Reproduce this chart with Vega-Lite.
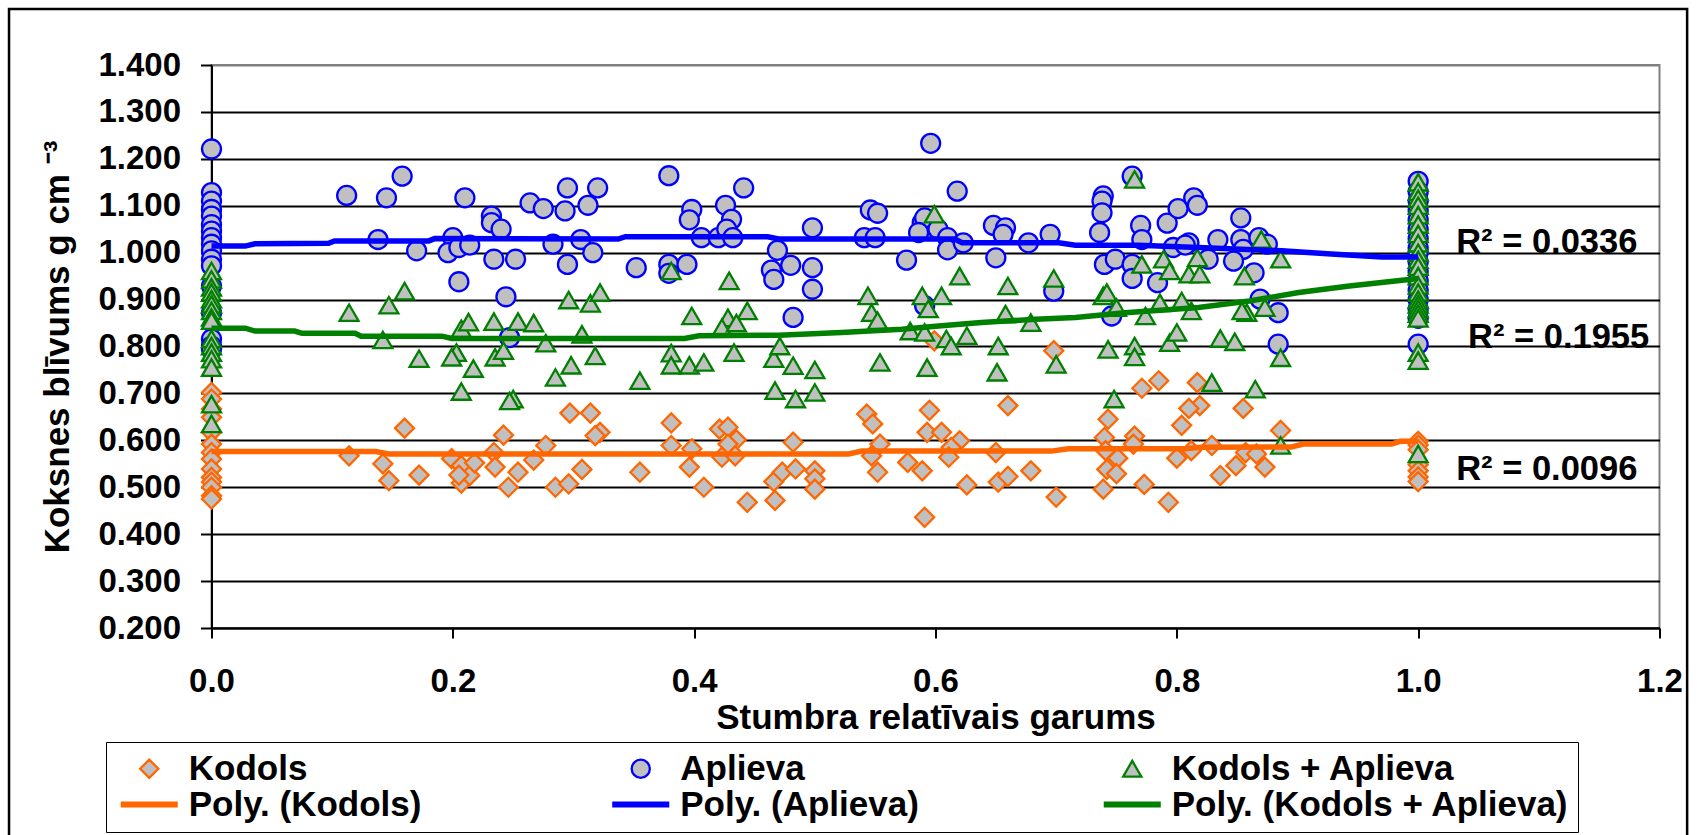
{
"$schema": "https://vega.github.io/schema/vega-lite/v6.json",
"width": 1448, "height": 563,
"autosize": {"type": "none"},
"padding": {"left": 211.5, "top": 65, "right": 40.5, "bottom": 207},
"background": "white",
"config": {
  "font": "Liberation Sans",
  "view": {"stroke": "#808080", "strokeWidth": 2},
  "axis": {"labelFont": "Liberation Sans", "labelFontSize": 33, "labelFontWeight": "bold", "labelColor": "black",
           "titleFont": "Liberation Sans", "titleFontSize": 35, "titleFontWeight": "bold", "titleColor": "black",
           "domainColor": "black", "domainWidth": 2, "tickColor": "black", "tickWidth": 2,
           "labelFlush": false, "labelOverlap": false, "labelBound": false}
},
"datasets": {
"pts": [
{"s":"Kodols","x":0,"y":0.702},{"s":"Kodols","x":0,"y":0.688},{"s":"Kodols","x":0,"y":0.667},{"s":"Kodols","x":0,"y":0.649},{"s":"Kodols","x":0,"y":0.617},{"s":"Kodols","x":0,"y":0.592},{"s":"Kodols","x":0,"y":0.574},{"s":"Kodols","x":0,"y":0.56},{"s":"Kodols","x":0,"y":0.539},{"s":"Kodols","x":0,"y":0.521},{"s":"Kodols","x":0,"y":0.511},{"s":"Kodols","x":0,"y":0.5},{"s":"Kodols","x":0,"y":0.482},{"s":"Kodols","x":0,"y":0.475},
{"s":"Kodols","x":0.114,"y":0.567},{"s":"Kodols","x":0.16,"y":0.626},{"s":"Kodols","x":0.142,"y":0.55},{"s":"Kodols","x":0.147,"y":0.514},{"s":"Kodols","x":0.172,"y":0.526},{"s":"Kodols","x":0.199,"y":0.561},{"s":"Kodols","x":0.207,"y":0.546},{"s":"Kodols","x":0.207,"y":0.509},{"s":"Kodols","x":0.214,"y":0.525},{"s":"Kodols","x":0.205,"y":0.526},{"s":"Kodols","x":0.218,"y":0.552},
{"s":"Kodols","x":0.242,"y":0.611},{"s":"Kodols","x":0.234,"y":0.574},{"s":"Kodols","x":0.235,"y":0.543},{"s":"Kodols","x":0.246,"y":0.5},{"s":"Kodols","x":0.254,"y":0.532},{"s":"Kodols","x":0.267,"y":0.558},{"s":"Kodols","x":0.277,"y":0.589},{"s":"Kodols","x":0.297,"y":0.658},{"s":"Kodols","x":0.314,"y":0.658},{"s":"Kodols","x":0.322,"y":0.617},{"s":"Kodols","x":0.318,"y":0.61},{"s":"Kodols","x":0.285,"y":0.5},{"s":"Kodols","x":0.296,"y":0.507},{"s":"Kodols","x":0.307,"y":0.538},{"s":"Kodols","x":0.355,"y":0.532},{"s":"Kodols","x":0.381,"y":0.637},{"s":"Kodols","x":0.381,"y":0.589},{"s":"Kodols","x":0.398,"y":0.582},{"s":"Kodols","x":0.396,"y":0.543},{"s":"Kodols","x":0.408,"y":0.5},{"s":"Kodols","x":0.421,"y":0.624},{"s":"Kodols","x":0.428,"y":0.628},{"s":"Kodols","x":0.435,"y":0.601},{"s":"Kodols","x":0.428,"y":0.592},{"s":"Kodols","x":0.423,"y":0.564},{"s":"Kodols","x":0.434,"y":0.567},{"s":"Kodols","x":0.444,"y":0.468},{"s":"Kodols","x":0.466,"y":0.512},{"s":"Kodols","x":0.467,"y":0.472},{"s":"Kodols","x":0.473,"y":0.532},
{"s":"Kodols","x":0.599,"y":0.812},{"s":"Kodols","x":0.698,"y":0.791},{"s":"Kodols","x":0.66,"y":0.674},{"s":"Kodols","x":0.595,"y":0.664},{"s":"Kodols","x":0.543,"y":0.656},{"s":"Kodols","x":0.548,"y":0.635},{"s":"Kodols","x":0.593,"y":0.617},{"s":"Kodols","x":0.605,"y":0.617},{"s":"Kodols","x":0.62,"y":0.599},{"s":"Kodols","x":0.613,"y":0.585},{"s":"Kodols","x":0.554,"y":0.592},{"s":"Kodols","x":0.547,"y":0.567},{"s":"Kodols","x":0.611,"y":0.564},{"s":"Kodols","x":0.65,"y":0.574},{"s":"Kodols","x":0.482,"y":0.596},{"s":"Kodols","x":0.484,"y":0.539},{"s":"Kodols","x":0.5,"y":0.535},{"s":"Kodols","x":0.5,"y":0.518},{"s":"Kodols","x":0.5,"y":0.496},{"s":"Kodols","x":0.552,"y":0.532},{"s":"Kodols","x":0.577,"y":0.553},{"s":"Kodols","x":0.589,"y":0.535},{"s":"Kodols","x":0.591,"y":0.436},{"s":"Kodols","x":0.626,"y":0.505},{"s":"Kodols","x":0.652,"y":0.511},{"s":"Kodols","x":0.66,"y":0.523},{"s":"Kodols","x":0.679,"y":0.535},{"s":"Kodols","x":0.7,"y":0.479},
{"s":"Kodols","x":0.785,"y":0.727},{"s":"Kodols","x":0.771,"y":0.711},{"s":"Kodols","x":0.817,"y":0.723},{"s":"Kodols","x":0.819,"y":0.674},{"s":"Kodols","x":0.81,"y":0.668},{"s":"Kodols","x":0.804,"y":0.632},{"s":"Kodols","x":0.855,"y":0.668},{"s":"Kodols","x":0.743,"y":0.645},{"s":"Kodols","x":0.74,"y":0.606},{"s":"Kodols","x":0.765,"y":0.609},{"s":"Kodols","x":0.764,"y":0.592},{"s":"Kodols","x":0.886,"y":0.621},{"s":"Kodols","x":0.829,"y":0.589},{"s":"Kodols","x":0.812,"y":0.578},{"s":"Kodols","x":0.741,"y":0.578},{"s":"Kodols","x":0.751,"y":0.562},{"s":"Kodols","x":0.8,"y":0.562},{"s":"Kodols","x":0.857,"y":0.574},{"s":"Kodols","x":0.866,"y":0.571},{"s":"Kodols","x":0.742,"y":0.538},{"s":"Kodols","x":0.75,"y":0.529},{"s":"Kodols","x":0.849,"y":0.546},{"s":"Kodols","x":0.873,"y":0.543},{"s":"Kodols","x":0.836,"y":0.525},{"s":"Kodols","x":0.739,"y":0.496},{"s":"Kodols","x":0.773,"y":0.506},{"s":"Kodols","x":0.793,"y":0.468},
{"s":"Kodols","x":1,"y":0.598},{"s":"Kodols","x":1,"y":0.59},{"s":"Kodols","x":1,"y":0.58},{"s":"Kodols","x":1,"y":0.548},{"s":"Kodols","x":1,"y":0.535},{"s":"Kodols","x":1,"y":0.522},{"s":"Kodols","x":1,"y":0.512},
{"s":"Aplieva","x":0,"y":1.221},{"s":"Aplieva","x":0,"y":1.128},{"s":"Aplieva","x":0,"y":1.11},{"s":"Aplieva","x":0,"y":1.092},{"s":"Aplieva","x":0,"y":1.078},{"s":"Aplieva","x":0,"y":1.06},{"s":"Aplieva","x":0,"y":1.046},{"s":"Aplieva","x":0,"y":1.032},{"s":"Aplieva","x":0,"y":1.018},{"s":"Aplieva","x":0,"y":1.004},{"s":"Aplieva","x":0,"y":0.986},{"s":"Aplieva","x":0,"y":0.972},{"s":"Aplieva","x":0,"y":0.929},{"s":"Aplieva","x":0,"y":0.872},{"s":"Aplieva","x":0,"y":0.816},{"s":"Aplieva","x":0,"y":0.801},{"s":"Aplieva","x":0,"y":0.794},
{"s":"Aplieva","x":0.112,"y":1.122},{"s":"Aplieva","x":0.158,"y":1.163},{"s":"Aplieva","x":0.145,"y":1.117},{"s":"Aplieva","x":0.21,"y":1.117},{"s":"Aplieva","x":0.138,"y":1.028},{"s":"Aplieva","x":0.17,"y":1.004},{"s":"Aplieva","x":0.2,"y":1.032},{"s":"Aplieva","x":0.196,"y":1.0},{"s":"Aplieva","x":0.205,"y":1.011},{"s":"Aplieva","x":0.214,"y":1.016},{"s":"Aplieva","x":0.205,"y":0.938},
{"s":"Aplieva","x":0.232,"y":1.078},{"s":"Aplieva","x":0.232,"y":1.064},{"s":"Aplieva","x":0.24,"y":1.05},{"s":"Aplieva","x":0.234,"y":0.986},{"s":"Aplieva","x":0.252,"y":0.986},{"s":"Aplieva","x":0.244,"y":0.906},{"s":"Aplieva","x":0.247,"y":0.819},{"s":"Aplieva","x":0.264,"y":1.106},{"s":"Aplieva","x":0.275,"y":1.094},{"s":"Aplieva","x":0.293,"y":1.089},{"s":"Aplieva","x":0.295,"y":1.138},{"s":"Aplieva","x":0.312,"y":1.101},{"s":"Aplieva","x":0.32,"y":1.138},{"s":"Aplieva","x":0.283,"y":1.018},{"s":"Aplieva","x":0.306,"y":1.028},{"s":"Aplieva","x":0.316,"y":1.0},{"s":"Aplieva","x":0.295,"y":0.975},{"s":"Aplieva","x":0.352,"y":0.968},{"s":"Aplieva","x":0.379,"y":1.164},{"s":"Aplieva","x":0.398,"y":1.092},{"s":"Aplieva","x":0.396,"y":1.07},{"s":"Aplieva","x":0.379,"y":0.975},{"s":"Aplieva","x":0.379,"y":0.956},{"s":"Aplieva","x":0.394,"y":0.975},{"s":"Aplieva","x":0.406,"y":1.032},{"s":"Aplieva","x":0.42,"y":1.032},{"s":"Aplieva","x":0.426,"y":1.101},{"s":"Aplieva","x":0.431,"y":1.071},{"s":"Aplieva","x":0.427,"y":1.05},{"s":"Aplieva","x":0.432,"y":1.032},{"s":"Aplieva","x":0.441,"y":1.138},{"s":"Aplieva","x":0.469,"y":1.005},{"s":"Aplieva","x":0.464,"y":0.963},{"s":"Aplieva","x":0.466,"y":0.943},
{"s":"Aplieva","x":0.596,"y":1.233},{"s":"Aplieva","x":0.618,"y":1.131},{"s":"Aplieva","x":0.546,"y":1.091},{"s":"Aplieva","x":0.552,"y":1.084},{"s":"Aplieva","x":0.498,"y":1.053},{"s":"Aplieva","x":0.541,"y":1.032},{"s":"Aplieva","x":0.55,"y":1.032},{"s":"Aplieva","x":0.589,"y":1.064},{"s":"Aplieva","x":0.591,"y":1.074},{"s":"Aplieva","x":0.586,"y":1.043},{"s":"Aplieva","x":0.602,"y":1.05},{"s":"Aplieva","x":0.61,"y":1.032},{"s":"Aplieva","x":0.61,"y":1.006},{"s":"Aplieva","x":0.623,"y":1.021},{"s":"Aplieva","x":0.576,"y":0.984},{"s":"Aplieva","x":0.648,"y":1.058},{"s":"Aplieva","x":0.658,"y":1.053},{"s":"Aplieva","x":0.656,"y":1.039},{"s":"Aplieva","x":0.677,"y":1.021},{"s":"Aplieva","x":0.695,"y":1.039},{"s":"Aplieva","x":0.65,"y":0.989},{"s":"Aplieva","x":0.48,"y":0.973},{"s":"Aplieva","x":0.498,"y":0.968},{"s":"Aplieva","x":0.498,"y":0.922},{"s":"Aplieva","x":0.482,"y":0.862},{"s":"Aplieva","x":0.698,"y":0.918},{"s":"Aplieva","x":0.591,"y":0.887},
{"s":"Aplieva","x":0.763,"y":1.163},{"s":"Aplieva","x":0.739,"y":1.121},{"s":"Aplieva","x":0.738,"y":1.11},{"s":"Aplieva","x":0.738,"y":1.085},{"s":"Aplieva","x":0.736,"y":1.043},{"s":"Aplieva","x":0.74,"y":0.975},{"s":"Aplieva","x":0.749,"y":0.986},{"s":"Aplieva","x":0.763,"y":0.975},{"s":"Aplieva","x":0.763,"y":0.945},{"s":"Aplieva","x":0.77,"y":1.058},{"s":"Aplieva","x":0.771,"y":1.028},{"s":"Aplieva","x":0.792,"y":1.063},{"s":"Aplieva","x":0.801,"y":1.094},{"s":"Aplieva","x":0.814,"y":1.117},{"s":"Aplieva","x":0.817,"y":1.101},{"s":"Aplieva","x":0.784,"y":0.936},{"s":"Aplieva","x":0.797,"y":1.011},{"s":"Aplieva","x":0.81,"y":1.021},{"s":"Aplieva","x":0.807,"y":1.016},{"s":"Aplieva","x":0.826,"y":0.986},{"s":"Aplieva","x":0.834,"y":1.028},{"s":"Aplieva","x":0.853,"y":1.074},{"s":"Aplieva","x":0.853,"y":1.028},{"s":"Aplieva","x":0.855,"y":1.007},{"s":"Aplieva","x":0.847,"y":0.982},{"s":"Aplieva","x":0.864,"y":0.957},{"s":"Aplieva","x":0.868,"y":1.032},{"s":"Aplieva","x":0.875,"y":1.018},{"s":"Aplieva","x":0.869,"y":0.901},{"s":"Aplieva","x":0.746,"y":0.865},{"s":"Aplieva","x":0.884,"y":0.872},{"s":"Aplieva","x":0.884,"y":0.805},
{"s":"Aplieva","x":1,"y":1.152},{"s":"Aplieva","x":1,"y":1.13},{"s":"Aplieva","x":1,"y":1.11},{"s":"Aplieva","x":1,"y":1.09},{"s":"Aplieva","x":1,"y":1.07},{"s":"Aplieva","x":1,"y":1.05},{"s":"Aplieva","x":1,"y":1.03},{"s":"Aplieva","x":1,"y":1.01},{"s":"Aplieva","x":1,"y":1.0},{"s":"Aplieva","x":1,"y":0.98},{"s":"Aplieva","x":1,"y":0.96},{"s":"Aplieva","x":1,"y":0.94},{"s":"Aplieva","x":1,"y":0.92},{"s":"Aplieva","x":1,"y":0.9},{"s":"Aplieva","x":1,"y":0.88},{"s":"Aplieva","x":1,"y":0.86},{"s":"Aplieva","x":1,"y":0.805},
{"s":"Kodols + Aplieva","x":0,"y":0.961},{"s":"Kodols + Aplieva","x":0,"y":0.943},{"s":"Kodols + Aplieva","x":0,"y":0.926},{"s":"Kodols + Aplieva","x":0,"y":0.915},{"s":"Kodols + Aplieva","x":0,"y":0.901},{"s":"Kodols + Aplieva","x":0,"y":0.89},{"s":"Kodols + Aplieva","x":0,"y":0.876},{"s":"Kodols + Aplieva","x":0,"y":0.862},{"s":"Kodols + Aplieva","x":0,"y":0.855},{"s":"Kodols + Aplieva","x":0,"y":0.816},{"s":"Kodols + Aplieva","x":0,"y":0.801},{"s":"Kodols + Aplieva","x":0,"y":0.787},{"s":"Kodols + Aplieva","x":0,"y":0.773},{"s":"Kodols + Aplieva","x":0,"y":0.755},{"s":"Kodols + Aplieva","x":0,"y":0.677},{"s":"Kodols + Aplieva","x":0,"y":0.635},
{"s":"Kodols + Aplieva","x":0.114,"y":0.872},{"s":"Kodols + Aplieva","x":0.147,"y":0.888},{"s":"Kodols + Aplieva","x":0.16,"y":0.918},{"s":"Kodols + Aplieva","x":0.142,"y":0.814},{"s":"Kodols + Aplieva","x":0.172,"y":0.774},{"s":"Kodols + Aplieva","x":0.207,"y":0.838},{"s":"Kodols + Aplieva","x":0.213,"y":0.852},{"s":"Kodols + Aplieva","x":0.203,"y":0.787},{"s":"Kodols + Aplieva","x":0.199,"y":0.777},{"s":"Kodols + Aplieva","x":0.217,"y":0.753},{"s":"Kodols + Aplieva","x":0.207,"y":0.704},
{"s":"Kodols + Aplieva","x":0.234,"y":0.853},{"s":"Kodols + Aplieva","x":0.235,"y":0.777},{"s":"Kodols + Aplieva","x":0.242,"y":0.791},{"s":"Kodols + Aplieva","x":0.254,"y":0.853},{"s":"Kodols + Aplieva","x":0.267,"y":0.85},{"s":"Kodols + Aplieva","x":0.277,"y":0.807},{"s":"Kodols + Aplieva","x":0.25,"y":0.688},{"s":"Kodols + Aplieva","x":0.247,"y":0.684},{"s":"Kodols + Aplieva","x":0.296,"y":0.899},{"s":"Kodols + Aplieva","x":0.314,"y":0.892},{"s":"Kodols + Aplieva","x":0.322,"y":0.915},{"s":"Kodols + Aplieva","x":0.307,"y":0.826},{"s":"Kodols + Aplieva","x":0.298,"y":0.76},{"s":"Kodols + Aplieva","x":0.318,"y":0.78},{"s":"Kodols + Aplieva","x":0.285,"y":0.734},{"s":"Kodols + Aplieva","x":0.355,"y":0.727},{"s":"Kodols + Aplieva","x":0.381,"y":0.961},{"s":"Kodols + Aplieva","x":0.398,"y":0.865},{"s":"Kodols + Aplieva","x":0.429,"y":0.94},{"s":"Kodols + Aplieva","x":0.428,"y":0.861},{"s":"Kodols + Aplieva","x":0.444,"y":0.876},{"s":"Kodols + Aplieva","x":0.423,"y":0.84},{"s":"Kodols + Aplieva","x":0.435,"y":0.85},{"s":"Kodols + Aplieva","x":0.381,"y":0.786},{"s":"Kodols + Aplieva","x":0.381,"y":0.76},{"s":"Kodols + Aplieva","x":0.396,"y":0.76},{"s":"Kodols + Aplieva","x":0.408,"y":0.766},{"s":"Kodols + Aplieva","x":0.433,"y":0.787},{"s":"Kodols + Aplieva","x":0.466,"y":0.774},{"s":"Kodols + Aplieva","x":0.467,"y":0.706},{"s":"Kodols + Aplieva","x":0.471,"y":0.801},
{"s":"Kodols + Aplieva","x":0.599,"y":1.082},{"s":"Kodols + Aplieva","x":0.62,"y":0.95},{"s":"Kodols + Aplieva","x":0.66,"y":0.929},{"s":"Kodols + Aplieva","x":0.698,"y":0.945},{"s":"Kodols + Aplieva","x":0.544,"y":0.908},{"s":"Kodols + Aplieva","x":0.589,"y":0.908},{"s":"Kodols + Aplieva","x":0.605,"y":0.908},{"s":"Kodols + Aplieva","x":0.547,"y":0.872},{"s":"Kodols + Aplieva","x":0.552,"y":0.855},{"s":"Kodols + Aplieva","x":0.594,"y":0.88},{"s":"Kodols + Aplieva","x":0.579,"y":0.833},{"s":"Kodols + Aplieva","x":0.591,"y":0.83},{"s":"Kodols + Aplieva","x":0.609,"y":0.816},{"s":"Kodols + Aplieva","x":0.613,"y":0.801},{"s":"Kodols + Aplieva","x":0.626,"y":0.823},{"s":"Kodols + Aplieva","x":0.658,"y":0.869},{"s":"Kodols + Aplieva","x":0.679,"y":0.851},{"s":"Kodols + Aplieva","x":0.652,"y":0.801},{"s":"Kodols + Aplieva","x":0.651,"y":0.745},{"s":"Kodols + Aplieva","x":0.7,"y":0.762},{"s":"Kodols + Aplieva","x":0.554,"y":0.766},{"s":"Kodols + Aplieva","x":0.593,"y":0.755},{"s":"Kodols + Aplieva","x":0.482,"y":0.759},{"s":"Kodols + Aplieva","x":0.5,"y":0.75},{"s":"Kodols + Aplieva","x":0.5,"y":0.702},{"s":"Kodols + Aplieva","x":0.484,"y":0.688},
{"s":"Kodols + Aplieva","x":0.765,"y":1.156},{"s":"Kodols + Aplieva","x":0.739,"y":0.908},{"s":"Kodols + Aplieva","x":0.742,"y":0.915},{"s":"Kodols + Aplieva","x":0.75,"y":0.883},{"s":"Kodols + Aplieva","x":0.771,"y":0.975},{"s":"Kodols + Aplieva","x":0.774,"y":0.865},{"s":"Kodols + Aplieva","x":0.786,"y":0.893},{"s":"Kodols + Aplieva","x":0.789,"y":0.986},{"s":"Kodols + Aplieva","x":0.794,"y":0.961},{"s":"Kodols + Aplieva","x":0.804,"y":0.897},{"s":"Kodols + Aplieva","x":0.81,"y":0.954},{"s":"Kodols + Aplieva","x":0.812,"y":0.876},{"s":"Kodols + Aplieva","x":0.817,"y":0.989},{"s":"Kodols + Aplieva","x":0.819,"y":0.954},{"s":"Kodols + Aplieva","x":0.856,"y":0.95},{"s":"Kodols + Aplieva","x":0.858,"y":0.872},{"s":"Kodols + Aplieva","x":0.854,"y":0.876},{"s":"Kodols + Aplieva","x":0.87,"y":1.028},{"s":"Kodols + Aplieva","x":0.873,"y":0.883},{"s":"Kodols + Aplieva","x":0.886,"y":0.986},{"s":"Kodols + Aplieva","x":0.743,"y":0.794},{"s":"Kodols + Aplieva","x":0.765,"y":0.801},{"s":"Kodols + Aplieva","x":0.765,"y":0.778},{"s":"Kodols + Aplieva","x":0.794,"y":0.808},{"s":"Kodols + Aplieva","x":0.8,"y":0.83},{"s":"Kodols + Aplieva","x":0.836,"y":0.817},{"s":"Kodols + Aplieva","x":0.848,"y":0.81},{"s":"Kodols + Aplieva","x":0.886,"y":0.776},{"s":"Kodols + Aplieva","x":0.748,"y":0.688},{"s":"Kodols + Aplieva","x":0.829,"y":0.723},{"s":"Kodols + Aplieva","x":0.865,"y":0.709},{"s":"Kodols + Aplieva","x":0.886,"y":0.589},
{"s":"Kodols + Aplieva","x":1,"y":1.15},{"s":"Kodols + Aplieva","x":1,"y":1.13},{"s":"Kodols + Aplieva","x":1,"y":1.115},{"s":"Kodols + Aplieva","x":1,"y":1.1},{"s":"Kodols + Aplieva","x":1,"y":1.08},{"s":"Kodols + Aplieva","x":1,"y":1.06},{"s":"Kodols + Aplieva","x":1,"y":1.04},{"s":"Kodols + Aplieva","x":1,"y":1.02},{"s":"Kodols + Aplieva","x":1,"y":1.0},{"s":"Kodols + Aplieva","x":1,"y":0.985},{"s":"Kodols + Aplieva","x":1,"y":0.97},{"s":"Kodols + Aplieva","x":1,"y":0.95},{"s":"Kodols + Aplieva","x":1,"y":0.93},{"s":"Kodols + Aplieva","x":1,"y":0.915},{"s":"Kodols + Aplieva","x":1,"y":0.9},{"s":"Kodols + Aplieva","x":1,"y":0.89},{"s":"Kodols + Aplieva","x":1,"y":0.88},{"s":"Kodols + Aplieva","x":1,"y":0.87},{"s":"Kodols + Aplieva","x":1,"y":0.86},{"s":"Kodols + Aplieva","x":1,"y":0.787},{"s":"Kodols + Aplieva","x":1,"y":0.77},{"s":"Kodols + Aplieva","x":1,"y":0.571}
],
"trend": [
{"s":"Poly. (Kodols)","x":0,"y":0.576},{"s":"Poly. (Kodols)","x":0.136,"y":0.576},{"s":"Poly. (Kodols)","x":0.147,"y":0.571},{"s":"Poly. (Kodols)","x":0.528,"y":0.571},{"s":"Poly. (Kodols)","x":0.539,"y":0.577},{"s":"Poly. (Kodols)","x":0.696,"y":0.577},{"s":"Poly. (Kodols)","x":0.71,"y":0.582},{"s":"Poly. (Kodols)","x":0.807,"y":0.582},{"s":"Poly. (Kodols)","x":0.82,"y":0.585},{"s":"Poly. (Kodols)","x":0.895,"y":0.586},{"s":"Poly. (Kodols)","x":0.905,"y":0.592},{"s":"Poly. (Kodols)","x":0.978,"y":0.592},{"s":"Poly. (Kodols)","x":0.985,"y":0.598},{"s":"Poly. (Kodols)","x":1,"y":0.598},
{"s":"Poly. (Aplieva)","x":0,"y":1.014},{"s":"Poly. (Aplieva)","x":0.028,"y":1.014},{"s":"Poly. (Aplieva)","x":0.036,"y":1.019},{"s":"Poly. (Aplieva)","x":0.097,"y":1.02},{"s":"Poly. (Aplieva)","x":0.102,"y":1.025},{"s":"Poly. (Aplieva)","x":0.18,"y":1.025},{"s":"Poly. (Aplieva)","x":0.185,"y":1.03},{"s":"Poly. (Aplieva)","x":0.337,"y":1.029},{"s":"Poly. (Aplieva)","x":0.343,"y":1.034},{"s":"Poly. (Aplieva)","x":0.461,"y":1.034},{"s":"Poly. (Aplieva)","x":0.47,"y":1.029},{"s":"Poly. (Aplieva)","x":0.616,"y":1.029},{"s":"Poly. (Aplieva)","x":0.622,"y":1.021},{"s":"Poly. (Aplieva)","x":0.702,"y":1.021},{"s":"Poly. (Aplieva)","x":0.716,"y":1.016},{"s":"Poly. (Aplieva)","x":0.768,"y":1.016},{"s":"Poly. (Aplieva)","x":0.818,"y":1.011},{"s":"Poly. (Aplieva)","x":0.887,"y":1.004},{"s":"Poly. (Aplieva)","x":0.928,"y":0.997},{"s":"Poly. (Aplieva)","x":0.97,"y":0.991},{"s":"Poly. (Aplieva)","x":1,"y":0.991},
{"s":"Poly. (Kodols + Aplieva)","x":0,"y":0.839},{"s":"Poly. (Kodols + Aplieva)","x":0.028,"y":0.839},{"s":"Poly. (Kodols + Aplieva)","x":0.036,"y":0.833},{"s":"Poly. (Kodols + Aplieva)","x":0.069,"y":0.833},{"s":"Poly. (Kodols + Aplieva)","x":0.075,"y":0.828},{"s":"Poly. (Kodols + Aplieva)","x":0.119,"y":0.828},{"s":"Poly. (Kodols + Aplieva)","x":0.124,"y":0.822},{"s":"Poly. (Kodols + Aplieva)","x":0.191,"y":0.822},{"s":"Poly. (Kodols + Aplieva)","x":0.199,"y":0.817},{"s":"Poly. (Kodols + Aplieva)","x":0.392,"y":0.817},{"s":"Poly. (Kodols + Aplieva)","x":0.404,"y":0.823},{"s":"Poly. (Kodols + Aplieva)","x":0.47,"y":0.824},{"s":"Poly. (Kodols + Aplieva)","x":0.522,"y":0.83},{"s":"Poly. (Kodols + Aplieva)","x":0.572,"y":0.837},{"s":"Poly. (Kodols + Aplieva)","x":0.605,"y":0.844},{"s":"Poly. (Kodols + Aplieva)","x":0.638,"y":0.851},{"s":"Poly. (Kodols + Aplieva)","x":0.683,"y":0.858},{"s":"Poly. (Kodols + Aplieva)","x":0.716,"y":0.862},{"s":"Poly. (Kodols + Aplieva)","x":0.757,"y":0.872},{"s":"Poly. (Kodols + Aplieva)","x":0.818,"y":0.883},{"s":"Poly. (Kodols + Aplieva)","x":0.86,"y":0.897},{"s":"Poly. (Kodols + Aplieva)","x":0.901,"y":0.915},{"s":"Poly. (Kodols + Aplieva)","x":0.943,"y":0.929},{"s":"Poly. (Kodols + Aplieva)","x":1,"y":0.945}
],
"r2": [
{"t":"R² = 0.0336","x":1.0315,"y":1.0},
{"t":"R² = 0.1955","x":1.0413,"y":0.797},
{"t":"R² = 0.0096","x":1.0315,"y":0.516}
]
},
"layer": [
{
 "data": {"values": [{}]},
 "mark": {"type": "rect", "filled": false, "stroke": "black", "strokeWidth": 2.5, "clip": false},
 "encoding": {"x": {"datum": -0.1678, "type": "quantitative"}, "x2": {"datum": 1.2229}, "y": {"datum": 1.5193, "type": "quantitative"}, "y2": {"datum": -0.2507}}
},
{
 "data": {"name": "pts"},
 "mark": {"type": "point", "filled": false, "fill": "#c0c0c0", "fillOpacity": 1, "opacity": 1, "strokeWidth": 2.3, "size": 360},
 "encoding": {
  "x": {"field": "x", "type": "quantitative", "scale": {"domain": [0, 1.2], "nice": false, "zero": false},
        "axis": {"values": [0, 0.2, 0.4, 0.6, 0.8, 1.0, 1.2], "format": ".1f", "grid": false, "tickSize": 10, "labelPadding": 27,
                 "title": "Stumbra relatīvais garums", "titleX": 724, "titleY": 100, "titleAlign": "center", "titleBaseline": "alphabetic"}},
  "y": {"field": "y", "type": "quantitative", "scale": {"domain": [0.2, 1.4], "nice": false, "zero": false},
        "axis": {"values": [0.2, 0.3, 0.4, 0.5, 0.6, 0.7, 0.8, 0.9, 1.0, 1.1, 1.2, 1.3, 1.4], "format": ".3f", "grid": true,
                 "gridColor": {"condition": {"test": "datum.value >= 1.399", "value": "#808080"}, "value": "black"}, "gridWidth": 2,
                 "tickSize": 11, "labelPadding": 20,
                 "title": "Koksnes blīvums g cm ⁻³", "titleAngle": 270, "titleX": -143, "titleY": 281.5, "titleAlign": "center", "titleBaseline": "alphabetic"}},
  "shape": {"field": "s", "type": "nominal",
            "scale": {"domain": ["Kodols", "Aplieva", "Kodols + Aplieva", "Poly. (Kodols)", "Poly. (Aplieva)", "Poly. (Kodols + Aplieva)"],
                      "range": ["diamond", "circle", "triangle-up", "M-3.14,-0.2H3.14M-3.14,0H3.14M-3.14,0.2H3.14", "M-3.14,-0.2H3.14M-3.14,0H3.14M-3.14,0.2H3.14", "M-3.14,-0.2H3.14M-3.14,0H3.14M-3.14,0.2H3.14"]},
            "legend": {"title": null, "orient": "none", "legendX": -105.5, "legendY": 677, "direction": "horizontal", "columns": 3, "gridAlign": "all",
                       "strokeColor": "black", "padding": 9, "labelFont": "Liberation Sans", "labelFontSize": 35, "labelFontWeight": "bold",
                       "labelColor": "black", "labelLimit": 0, "labelOffset": 22, "symbolSize": 330, "symbolStrokeWidth": 2.3, "symbolOffset": 16.75,
                       "columnPadding": 20.5, "rowPadding": 0,
                       "encode": {"legend": {"strokeWidth": {"value": 2}}}}},
  "stroke": {"field": "s", "type": "nominal",
            "scale": {"domain": ["Kodols", "Aplieva", "Kodols + Aplieva", "Poly. (Kodols)", "Poly. (Aplieva)", "Poly. (Kodols + Aplieva)"],
                      "range": ["#FF6600", "#0000FF", "#008000", "#FF6600", "#0000FF", "#008000"]},
            "legend": {"title": null, "orient": "none", "legendX": -105.5, "legendY": 677, "direction": "horizontal", "columns": 3, "gridAlign": "all",
                       "strokeColor": "black", "padding": 9, "labelFont": "Liberation Sans", "labelFontSize": 35, "labelFontWeight": "bold",
                       "labelColor": "black", "labelLimit": 0, "labelOffset": 22, "symbolSize": 330, "symbolStrokeWidth": 2.3, "symbolOffset": 16.75,
                       "columnPadding": 20.5, "rowPadding": 0,
                       "encode": {"legend": {"strokeWidth": {"value": 2}}}}}
 }
},
{
 "data": {"name": "trend"},
 "transform": [{"filter": "datum.s === 'Poly. (Kodols)'"}],
 "mark": {"type": "line", "strokeWidth": 5.5, "color": "#FF6600"},
 "encoding": {"x": {"field": "x", "type": "quantitative"}, "y": {"field": "y", "type": "quantitative"}}
},
{
 "data": {"name": "trend"},
 "transform": [{"filter": "datum.s === 'Poly. (Aplieva)'"}],
 "mark": {"type": "line", "strokeWidth": 5.5, "color": "#0000FF"},
 "encoding": {"x": {"field": "x", "type": "quantitative"}, "y": {"field": "y", "type": "quantitative"}}
},
{
 "data": {"name": "trend"},
 "transform": [{"filter": "datum.s === 'Poly. (Kodols + Aplieva)'"}],
 "mark": {"type": "line", "strokeWidth": 5.5, "color": "#008000"},
 "encoding": {"x": {"field": "x", "type": "quantitative"}, "y": {"field": "y", "type": "quantitative"}}
},
{
 "data": {"name": "r2"},
 "mark": {"type": "text", "align": "left", "baseline": "alphabetic", "font": "Liberation Sans", "fontSize": 34.5, "fontWeight": "bold", "color": "black"},
 "encoding": {
  "x": {"field": "x", "type": "quantitative"},
  "y": {"field": "y", "type": "quantitative"},
  "text": {"field": "t"}
 }
}
]
}
